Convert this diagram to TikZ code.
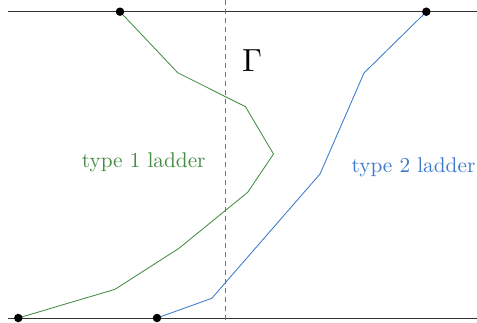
\documentclass[tikz,border=0pt]{standalone}
\definecolor{lgreen}{RGB}{68,140,68}
\definecolor{lblue}{RGB}{60,122,204}
\begin{document}
\begin{tikzpicture}[x=1pt,y=-1pt,
  bound/.style={draw=black!80,line width=0.9pt},
  dot/.style={circle,fill=black,inner sep=0pt,minimum size=8.5pt},
  greenpath/.style={draw=lgreen,line width=0.85pt,line join=round},
  bluepath/.style={draw=lblue,line width=0.85pt,line join=round},
  gammaline/.style={draw=black!55,line width=0.85pt,dash pattern=on 5pt off 4pt},
  lbl/.style={scale=2.13,inner sep=0pt,anchor=base}]
\useasboundingbox (0,0) rectangle (477,322);
% boundary lines
\coordinate (tl) at (8,11.7);
\coordinate (tr) at (477,11.7);
\coordinate (bl) at (8,318);
\coordinate (br) at (477,318);
\draw[bound] (tl) -- (tr);
\draw[bound] (bl) -- (br);
% Gamma
\coordinate (gt) at (225.6,0);
\coordinate (gb) at (225.6,322);
\draw[gammaline] (gt) -- (gb);
% green ladder
\coordinate (g0) at (120,11.7);
\coordinate (g1) at (177.7,72.7);
\coordinate (g2) at (245.5,106.7);
\coordinate (g3) at (273.5,154);
\coordinate (g4) at (247.7,192.3);
\coordinate (g5) at (179,248.3);
\coordinate (g6) at (115,289.3);
\coordinate (g7) at (18.3,318);
\draw[greenpath] (g0) -- (g1) -- (g2) -- (g3) -- (g4) -- (g5) -- (g6) -- (g7);
% blue ladder
\coordinate (b0) at (426.3,11.7);
\coordinate (b1) at (364,73);
\coordinate (b2) at (320,174);
\coordinate (b3) at (211.8,298.3);
\coordinate (b4) at (157,318);
\draw[bluepath] (b0) -- (b1) -- (b2) -- (b3) -- (b4);
% dots
\node[dot] (d1) at (g0) {};
\node[dot] (d2) at (b0) {};
\node[dot] (d3) at (g7) {};
\node[dot] (d4) at (b4) {};
% labels
\node[scale=3.2,inner sep=0pt,anchor=base] (gamma) at (252,71) {$\Gamma$};
\node[lbl,text=lgreen] (t1) at (143.7,167.3) {type 1 ladder};
\node[lbl,text=lblue] (t2) at (413.5,172.3) {type 2 ladder};
\end{tikzpicture}
\end{document}
